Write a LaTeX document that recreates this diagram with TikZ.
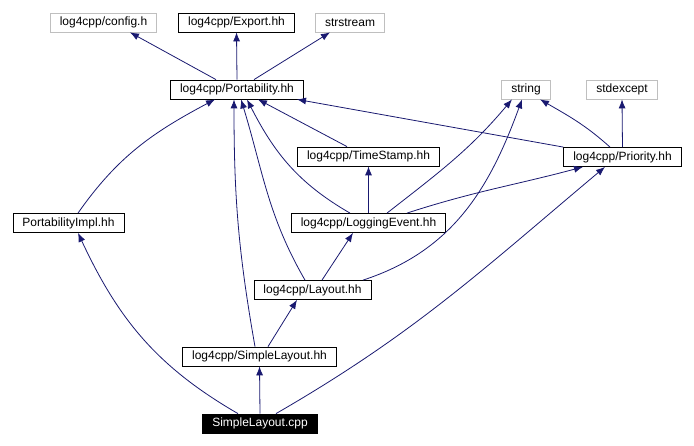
\documentclass[tikz,border=0pt]{standalone}
\usepackage{fontspec}
\setmainfont{Liberation Sans}
\usepackage{tikz}
\usetikzlibrary{arrows.meta}
\definecolor{edgeblue}{HTML}{191970}
\definecolor{boxgray}{HTML}{BFBFBF}
\tikzset{every node/.style={align=center, font=\fontsize{12}{14}\selectfont},
    file/.style={draw=black, line width=0.8pt, inner xsep=9.5pt, inner ysep=0pt, minimum height=19pt},
    sysfile/.style={file, draw=boxgray},
    mainfile/.style={file, fill=black, text=white},
    >={Latex[length=9pt,width=7pt]}}

\begin{document}
\begin{tikzpicture}[x=1pt, y=1pt]
            \useasboundingbox (0,0) rectangle (694,-446);
            \node [sysfile] (cfg) at (103.5,-22.5) {log4cpp/config.h};
            \node [file] (exp) at (236.5,-22.5) {log4cpp/Export.hh};
            \node [sysfile] (sstr) at (350,-22.5) {strstream};
            \node [file] (port) at (237,-89.5) {log4cpp/Portability.hh};
            \node [sysfile] (str) at (526,-89.5) {string};
            \node [sysfile] (stdx) at (622,-89.5) {stdexcept};
            \node [file] (ts) at (368.5,-156.5) {log4cpp/TimeStamp.hh};
            \node [file] (prio) at (622.5,-157) {log4cpp/Priority.hh};
            \node [file] (pimpl) at (68.5,-223) {PortabilityImpl.hh};
            \node [file] (le) at (368.5,-223) {log4cpp/LoggingEvent.hh};
            \node [file] (lay) at (312.5,-290) {log4cpp/Layout.hh};
            \node [file] (slh) at (259.5,-356.5) {log4cpp/SimpleLayout.hh};
            \node [mainfile] (cpp) at (260,-423.5) {SimpleLayout.cpp};

            \path[->, line width=0.8pt, edgeblue]
                ([xshift=-21pt]port.north) edge ([xshift=26.5pt]cfg.south)
                (port.north) edge (exp.south)
                ([xshift=17pt]port.north) edge ([xshift=-20pt]sstr.south)
                ([xshift=9.5pt]pimpl.north) edge [out=55, in=-152] ([xshift=-22pt]port.south)
                ([xshift=-4.5pt]slh.north) edge [out=100, in=-90] ([xshift=-3pt]port.south)
                ([xshift=-7.5pt]lay.north) edge [out=120, in=-73] ([xshift=4pt]port.south)
                ([xshift=-18.5pt]le.north) edge [out=150, in=-63] ([xshift=10pt]port.south)
                ([xshift=-21.5pt]ts.north) edge ([xshift=21pt]port.south)
                (prio.north west) edge ([xshift=60pt]port.south)
                (le.north) edge (ts.south)
                ([xshift=18.5pt]le.north) edge [out=38, in=-130] ([xshift=-14pt]str.south)
                ([xshift=50.5pt]lay.north) edge [out=18, in=-110] ([xshift=-4pt]str.south)
                ([xshift=-12.5pt]prio.north) edge [out=138, in=-30] ([xshift=14pt]str.south)
                (prio.north) edge (stdx.south)
                ([xshift=38.5pt]le.north) edge [out=18, in=-165] ([xshift=-39.5pt]prio.south)
                ([xshift=9.5pt]lay.north) edge ([xshift=-15.5pt]le.south)
                ([xshift=8.5pt]slh.north) edge ([xshift=-15.5pt]lay.south)
                (cpp.north) edge (slh.south)
                ([xshift=-22pt]cpp.north) edge [out=150, in=-65] ([xshift=9.5pt]pimpl.south)
                ([xshift=16pt]cpp.north) edge [out=30, in=-140] ([xshift=-17.5pt]prio.south);

        \end{tikzpicture}
\end{document}
